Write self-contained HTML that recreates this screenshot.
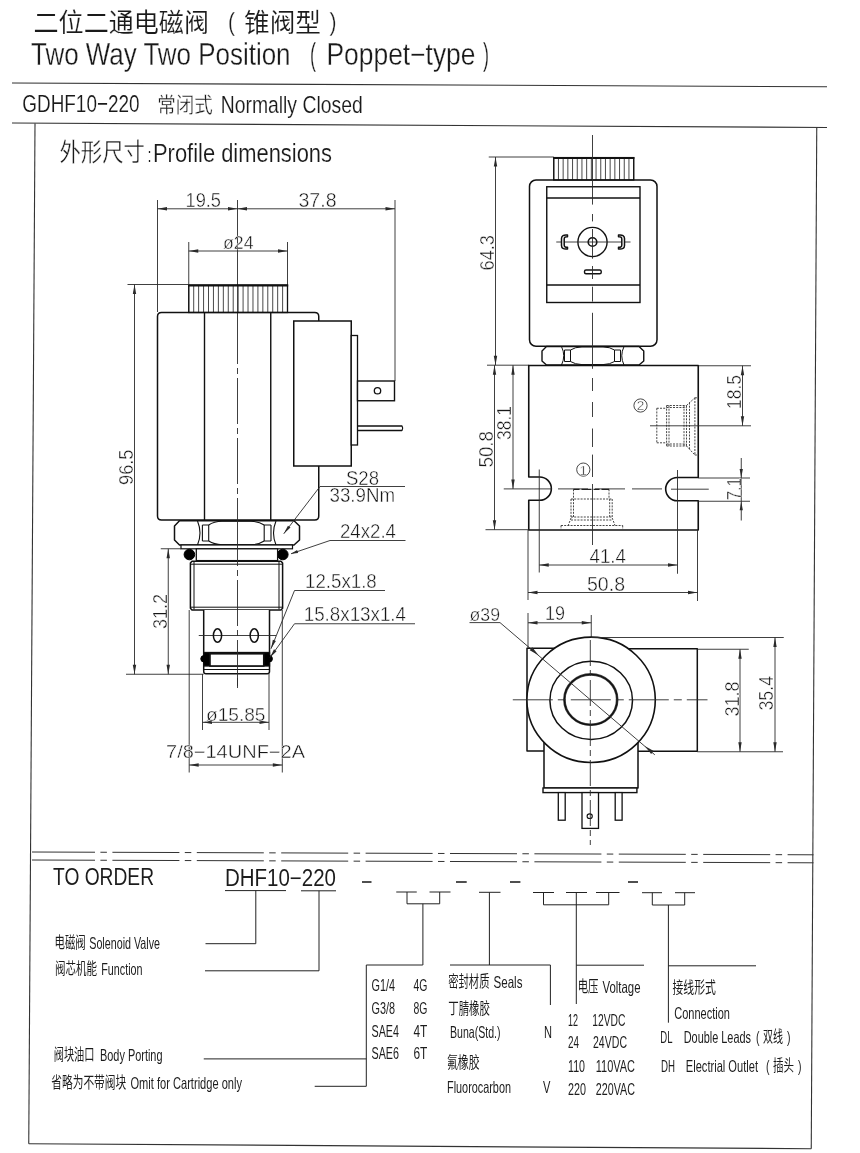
<!DOCTYPE html>
<html lang="zh"><head><meta charset="utf-8"><title>GDHF10-220 Two Way Two Position Poppet-type</title>
<style>
html,body{margin:0;padding:0;background:#fff;}
body{width:860px;height:1153px;overflow:hidden;}
svg{display:block;filter:grayscale(1);}
text{font-family:"Liberation Sans","Noto Sans CJK SC",sans-serif;}
.t{font-family:"Liberation Sans","Noto Sans CJK SC",sans-serif;}
.d{font-family:"Liberation Sans","Noto Sans CJK SC",sans-serif;stroke:#fff;stroke-width:0.42px;}
.h{font-family:"Liberation Sans","Noto Sans CJK SC",sans-serif;stroke:#fff;stroke-width:0.3px;}
.h2{font-family:"Liberation Sans","Noto Sans CJK SC",sans-serif;stroke:#fff;stroke-width:0.15px;}
.c4{font-family:"Liberation Sans","Noto Sans CJK SC",sans-serif;font-weight:400;stroke:#fff;stroke-width:0.35px;}
.c5{font-family:"Liberation Sans","Noto Sans CJK SC",sans-serif;font-weight:400;stroke:#fff;stroke-width:0.15px;}
.c{font-family:"Liberation Sans","Noto Sans CJK SC",sans-serif;font-weight:300;}
</style></head><body>
<svg width="860" height="1153" viewBox="0 0 860 1153">
<rect width="860" height="1153" fill="#fff"/>
<text x="33.50" y="31.50" font-size="26.3" fill="#1a1a1a" class="c5" textLength="175.50" lengthAdjust="spacingAndGlyphs">二位二通电磁阀</text>
<text x="228.00" y="31.00" font-size="26" fill="#1a1a1a" class="h" textLength="7.00" lengthAdjust="spacingAndGlyphs">(</text>
<text x="244.00" y="31.50" font-size="26.3" fill="#1a1a1a" class="c5" textLength="77.00" lengthAdjust="spacingAndGlyphs">锥阀型</text>
<text x="329.50" y="31.00" font-size="26" fill="#1a1a1a" class="h" textLength="7.00" lengthAdjust="spacingAndGlyphs">)</text>
<text x="31.00" y="65.00" font-size="30.5" fill="#1a1a1a" class="h" textLength="259.50" lengthAdjust="spacingAndGlyphs">Two Way Two Position</text>
<text x="310.00" y="65.00" font-size="30.5" fill="#1a1a1a" class="h" textLength="6.00" lengthAdjust="spacingAndGlyphs">(</text>
<text x="326.50" y="65.00" font-size="30.5" fill="#1a1a1a" class="h" textLength="149.00" lengthAdjust="spacingAndGlyphs">Poppet−type</text>
<text x="483.00" y="65.00" font-size="30.5" fill="#1a1a1a" class="h" textLength="6.00" lengthAdjust="spacingAndGlyphs">)</text>
<line x1="12.00" y1="83.00" x2="827.00" y2="86.75" stroke="#333" stroke-width="1.1"/>
<text x="22.30" y="112.20" font-size="24.4" fill="#1a1a1a" class="h2" textLength="117.20" lengthAdjust="spacingAndGlyphs">GDHF10−220</text>
<text x="157.30" y="112.00" font-size="21" fill="#1a1a1a" class="c4" textLength="55.50" lengthAdjust="spacingAndGlyphs">常闭式</text>
<text x="220.70" y="112.60" font-size="24.3" fill="#1a1a1a" class="h2" textLength="142.00" lengthAdjust="spacingAndGlyphs">Normally Closed</text>
<line x1="12.00" y1="123.00" x2="827.00" y2="127.50" stroke="#333" stroke-width="1.1"/>
<text x="59.50" y="161.00" font-size="24.5" fill="#1a1a1a" class="c4" textLength="85.50" lengthAdjust="spacingAndGlyphs">外形尺寸</text>
<text x="147.50" y="161.50" font-size="20" fill="#1a1a1a" class="h2" textLength="4.00" lengthAdjust="spacingAndGlyphs">:</text>
<text x="153.00" y="161.70" font-size="26" fill="#1a1a1a" class="h2" textLength="179.00" lengthAdjust="spacingAndGlyphs">Profile dimensions</text>
<line x1="35.00" y1="123.50" x2="28.75" y2="1143.75" stroke="#333" stroke-width="1.1"/>
<line x1="28.75" y1="1143.75" x2="811.25" y2="1148.75" stroke="#333" stroke-width="1.2"/>
<line x1="816.75" y1="127.50" x2="811.25" y2="1148.75" stroke="#333" stroke-width="1.1"/>
<line x1="157.50" y1="200.00" x2="157.50" y2="312.00" stroke="#2a2a2a" stroke-width="0.9"/>
<line x1="237.50" y1="200.00" x2="237.50" y2="318.00" stroke="#2a2a2a" stroke-width="0.9"/>
<line x1="395.00" y1="200.00" x2="395.00" y2="381.00" stroke="#2a2a2a" stroke-width="0.9"/>
<line x1="157.50" y1="208.80" x2="395.00" y2="208.80" stroke="#2a2a2a" stroke-width="0.9"/>
<polygon points="157.50,208.80 167.00,207.10 167.00,210.50" fill="#2a2a2a"/>
<polygon points="237.50,208.80 228.00,210.50 228.00,207.10" fill="#2a2a2a"/>
<polygon points="237.50,208.80 247.00,207.10 247.00,210.50" fill="#2a2a2a"/>
<polygon points="395.00,208.80 385.50,210.50 385.50,207.10" fill="#2a2a2a"/>
<text x="185.50" y="207.00" font-size="20.3" fill="#161616" class="d" textLength="35.50" lengthAdjust="spacingAndGlyphs">19.5</text>
<text x="298.50" y="207.30" font-size="20.3" fill="#161616" class="d" textLength="38.00" lengthAdjust="spacingAndGlyphs">37.8</text>
<line x1="188.75" y1="242.00" x2="188.75" y2="285.00" stroke="#2a2a2a" stroke-width="0.9"/>
<line x1="287.50" y1="242.00" x2="287.50" y2="285.00" stroke="#2a2a2a" stroke-width="0.9"/>
<line x1="188.75" y1="251.00" x2="287.50" y2="251.00" stroke="#2a2a2a" stroke-width="0.9"/>
<polygon points="188.75,251.00 198.25,249.30 198.25,252.70" fill="#2a2a2a"/>
<polygon points="287.50,251.00 278.00,252.70 278.00,249.30" fill="#2a2a2a"/>
<text x="223.00" y="248.80" font-size="18" fill="#161616" class="d" textLength="30.50" lengthAdjust="spacingAndGlyphs">ø24</text>
<line x1="188.75" y1="286.00" x2="188.75" y2="312.00" stroke="#4a4a4a" stroke-width="1"/>
<line x1="193.69" y1="286.00" x2="193.69" y2="312.00" stroke="#4a4a4a" stroke-width="1"/>
<line x1="198.63" y1="286.00" x2="198.63" y2="312.00" stroke="#4a4a4a" stroke-width="1"/>
<line x1="203.57" y1="286.00" x2="203.57" y2="312.00" stroke="#4a4a4a" stroke-width="1"/>
<line x1="208.51" y1="286.00" x2="208.51" y2="312.00" stroke="#4a4a4a" stroke-width="1"/>
<line x1="213.45" y1="286.00" x2="213.45" y2="312.00" stroke="#4a4a4a" stroke-width="1"/>
<line x1="218.39" y1="286.00" x2="218.39" y2="312.00" stroke="#4a4a4a" stroke-width="1"/>
<line x1="223.33" y1="286.00" x2="223.33" y2="312.00" stroke="#4a4a4a" stroke-width="1"/>
<line x1="228.27" y1="286.00" x2="228.27" y2="312.00" stroke="#4a4a4a" stroke-width="1"/>
<line x1="233.21" y1="286.00" x2="233.21" y2="312.00" stroke="#4a4a4a" stroke-width="1"/>
<line x1="238.15" y1="286.00" x2="238.15" y2="312.00" stroke="#4a4a4a" stroke-width="1"/>
<line x1="243.09" y1="286.00" x2="243.09" y2="312.00" stroke="#4a4a4a" stroke-width="1"/>
<line x1="248.03" y1="286.00" x2="248.03" y2="312.00" stroke="#4a4a4a" stroke-width="1"/>
<line x1="252.97" y1="286.00" x2="252.97" y2="312.00" stroke="#4a4a4a" stroke-width="1"/>
<line x1="257.91" y1="286.00" x2="257.91" y2="312.00" stroke="#4a4a4a" stroke-width="1"/>
<line x1="262.85" y1="286.00" x2="262.85" y2="312.00" stroke="#4a4a4a" stroke-width="1"/>
<line x1="267.79" y1="286.00" x2="267.79" y2="312.00" stroke="#4a4a4a" stroke-width="1"/>
<line x1="272.73" y1="286.00" x2="272.73" y2="312.00" stroke="#4a4a4a" stroke-width="1"/>
<line x1="277.67" y1="286.00" x2="277.67" y2="312.00" stroke="#4a4a4a" stroke-width="1"/>
<line x1="282.61" y1="286.00" x2="282.61" y2="312.00" stroke="#4a4a4a" stroke-width="1"/>
<rect x="188.75" y="285.30" width="98.75" height="27.20" rx="0" stroke="#111" stroke-width="1.3" fill="none"/>
<line x1="188.10" y1="285.40" x2="288.20" y2="285.40" stroke="#111" stroke-width="2.4"/>
<line x1="127.50" y1="284.50" x2="189.00" y2="284.50" stroke="#2a2a2a" stroke-width="0.9"/>
<line x1="126.00" y1="674.25" x2="203.50" y2="674.25" stroke="#2a2a2a" stroke-width="0.9"/>
<line x1="134.50" y1="284.50" x2="134.50" y2="674.25" stroke="#2a2a2a" stroke-width="0.9"/>
<polygon points="134.50,284.50 136.20,294.00 132.80,294.00" fill="#2a2a2a"/>
<polygon points="134.50,674.25 132.80,664.75 136.20,664.75" fill="#2a2a2a"/>
<text x="133.00" y="485.00" font-size="20.3" fill="#161616" class="d" textLength="35.50" lengthAdjust="spacingAndGlyphs" transform="rotate(-90 133.00 485.00)">96.5</text>
<path d="M157.5 316.5 Q157.5 312.5 161.5 312.5 L314.75 312.5 Q318.75 312.5 318.75 316.5 L318.75 516 Q318.75 520 314.75 520 L161.5 520 Q157.5 520 157.5 516 Z" stroke="#111" stroke-width="1.5" fill="none" stroke-linejoin="round"/>
<line x1="204.50" y1="312.50" x2="204.50" y2="520.00" stroke="#111" stroke-width="1.4"/>
<line x1="270.75" y1="312.50" x2="270.75" y2="520.00" stroke="#111" stroke-width="1.4"/>
<rect x="293.75" y="321.00" width="57.50" height="145.00" rx="0" stroke="#111" stroke-width="1.5" fill="#fff"/>
<rect x="351.25" y="335.50" width="6.25" height="109.50" rx="0" stroke="#111" stroke-width="1.3" fill="#fff"/>
<rect x="357.50" y="381.00" width="37.00" height="19.75" rx="0" stroke="#111" stroke-width="1.4" fill="#fff"/>
<circle cx="377.50" cy="390.75" r="3.20" stroke="#111" stroke-width="1.3" fill="none"/>
<path d="M357.5 426 L402 426 Q403.5 428.25 402 430.5 L357.5 430.5" stroke="#111" stroke-width="1.3" fill="none" stroke-linejoin="round"/>
<line x1="237.50" y1="318.00" x2="237.50" y2="688.00" stroke="#2a2a2a" stroke-width="0.9" stroke-dasharray="46 4 6 4"/>
<path d="M179.5 520.8 L294 520.8 L299.5 526 L299.5 540 L294 545 L179.5 545 L174.5 540 L174.5 526 Z" stroke="#111" stroke-width="1.5" fill="#fff" stroke-linejoin="round"/>
<path d="M197.5 521 Q202.5 533 197.5 545" stroke="#111" stroke-width="1.1" fill="none" stroke-linejoin="round"/>
<path d="M276 521 Q271 533 276 545" stroke="#111" stroke-width="1.1" fill="none" stroke-linejoin="round"/>
<line x1="202.40" y1="525.00" x2="202.40" y2="541.00" stroke="#111" stroke-width="1.1"/>
<line x1="208.70" y1="525.00" x2="208.70" y2="541.00" stroke="#111" stroke-width="1.1"/>
<line x1="264.20" y1="525.00" x2="264.20" y2="541.00" stroke="#111" stroke-width="1.1"/>
<line x1="271.00" y1="525.00" x2="271.00" y2="541.00" stroke="#111" stroke-width="1.1"/>
<path d="M202.4 525 L208.7 525 Q214 521.5 222 521.3 L251 521.3 Q259 521.5 264.2 525 L271 525" stroke="#111" stroke-width="1.1" fill="none" stroke-linejoin="round"/>
<path d="M202.4 541 L208.7 541 Q214 544.5 222 544.7 L251 544.7 Q259 544.5 264.2 541 L271 541" stroke="#111" stroke-width="1.1" fill="none" stroke-linejoin="round"/>
<rect x="181.00" y="545.00" width="111.50" height="3.80" rx="0" stroke="#111" stroke-width="1.2" fill="#fff"/>
<line x1="160.75" y1="548.75" x2="181.00" y2="548.75" stroke="#2a2a2a" stroke-width="0.9"/>
<circle cx="189.40" cy="554.50" r="5.30" stroke="#000" stroke-width="1" fill="#000"/>
<circle cx="282.80" cy="554.50" r="5.30" stroke="#000" stroke-width="1" fill="#000"/>
<rect x="196.30" y="548.80" width="81.30" height="11.80" rx="0" stroke="#111" stroke-width="1.3" fill="#fff"/>
<path d="M192 561.2 L281 561.2 L282.6 563 L282.6 608.2 L281 610 L192 610 L190.4 608.2 L190.4 563 Z" stroke="#111" stroke-width="1.5" fill="#fff" stroke-linejoin="round"/>
<line x1="194.00" y1="562.00" x2="194.00" y2="609.50" stroke="#111" stroke-width="1"/>
<line x1="279.00" y1="562.00" x2="279.00" y2="609.50" stroke="#111" stroke-width="1"/>
<line x1="190.40" y1="564.20" x2="282.60" y2="564.20" stroke="#111" stroke-width="1"/>
<line x1="190.40" y1="607.20" x2="282.60" y2="607.20" stroke="#111" stroke-width="1"/>
<path d="M203.7 610 L203.7 671.5 Q203.7 673.8 206 673.8 L267.2 673.8 Q269.5 673.8 269.5 671.5 L269.5 610" stroke="#111" stroke-width="1.5" fill="#fff" stroke-linejoin="round"/>
<line x1="198.75" y1="635.50" x2="276.00" y2="635.50" stroke="#2a2a2a" stroke-width="0.9"/>
<ellipse cx="217.50" cy="635.50" rx="4.10" ry="6.70" stroke="#111" stroke-width="1.5" fill="none"/>
<ellipse cx="254.25" cy="635.50" rx="4.10" ry="6.70" stroke="#111" stroke-width="1.5" fill="none"/>
<rect x="203.70" y="652.50" width="65.80" height="13.50" rx="0" stroke="#111" stroke-width="1.3" fill="#000"/>
<rect x="210.00" y="653.80" width="53.75" height="12.20" rx="0" stroke="#111" stroke-width="1.6" fill="#fff"/>
<circle cx="204.00" cy="658.80" r="3.20" stroke="#000" stroke-width="1" fill="#000"/>
<circle cx="269.20" cy="658.80" r="3.20" stroke="#000" stroke-width="1" fill="#000"/>
<line x1="203.70" y1="669.50" x2="269.50" y2="669.50" stroke="#111" stroke-width="1"/>
<line x1="237.50" y1="520.00" x2="237.50" y2="688.00" stroke="#2a2a2a" stroke-width="0.9" stroke-dasharray="46 4 6 4"/>
<line x1="168.25" y1="548.75" x2="168.25" y2="674.25" stroke="#2a2a2a" stroke-width="0.9"/>
<polygon points="168.25,548.75 169.95,558.25 166.55,558.25" fill="#2a2a2a"/>
<polygon points="168.25,674.25 166.55,664.75 169.95,664.75" fill="#2a2a2a"/>
<text x="166.50" y="629.00" font-size="20.3" fill="#161616" class="d" textLength="35.00" lengthAdjust="spacingAndGlyphs" transform="rotate(-90 166.50 629.00)">31.2</text>
<line x1="189.20" y1="610.00" x2="189.20" y2="772.50" stroke="#2a2a2a" stroke-width="0.9"/>
<line x1="282.30" y1="610.00" x2="282.30" y2="772.50" stroke="#2a2a2a" stroke-width="0.9"/>
<line x1="202.50" y1="674.00" x2="202.50" y2="730.00" stroke="#2a2a2a" stroke-width="0.9"/>
<line x1="269.00" y1="674.00" x2="269.00" y2="730.00" stroke="#2a2a2a" stroke-width="0.9"/>
<line x1="202.50" y1="722.30" x2="269.00" y2="722.30" stroke="#2a2a2a" stroke-width="0.9"/>
<polygon points="202.50,722.30 212.00,720.60 212.00,724.00" fill="#2a2a2a"/>
<polygon points="269.00,722.30 259.50,724.00 259.50,720.60" fill="#2a2a2a"/>
<text x="206.00" y="720.70" font-size="18.5" fill="#161616" class="d" textLength="59.50" lengthAdjust="spacingAndGlyphs">ø15.85</text>
<line x1="189.20" y1="765.00" x2="282.30" y2="765.00" stroke="#2a2a2a" stroke-width="0.9"/>
<polygon points="189.20,765.00 198.70,763.30 198.70,766.70" fill="#2a2a2a"/>
<polygon points="282.30,765.00 272.80,766.70 272.80,763.30" fill="#2a2a2a"/>
<text x="166.00" y="757.50" font-size="18" fill="#161616" class="d" textLength="139.00" lengthAdjust="spacingAndGlyphs">7/8−14UNF−2A</text>
<line x1="320.00" y1="486.50" x2="405.00" y2="486.50" stroke="#2a2a2a" stroke-width="0.9"/>
<line x1="320.00" y1="486.50" x2="283.75" y2="533.75" stroke="#2a2a2a" stroke-width="0.9"/>
<polygon points="283.75,533.75 287.96,525.64 290.50,527.58" fill="#2a2a2a"/>
<text x="346.00" y="484.50" font-size="19.4" fill="#161616" class="d" textLength="33.00" lengthAdjust="spacingAndGlyphs">S28</text>
<text x="329.50" y="502.00" font-size="19.4" fill="#161616" class="d" textLength="65.50" lengthAdjust="spacingAndGlyphs">33.9Nm</text>
<line x1="330.00" y1="540.50" x2="405.50" y2="540.50" stroke="#2a2a2a" stroke-width="0.9"/>
<line x1="330.00" y1="540.50" x2="291.00" y2="553.75" stroke="#2a2a2a" stroke-width="0.9"/>
<polygon points="291.00,553.75 297.15,550.08 298.11,552.92" fill="#2a2a2a"/>
<text x="340.00" y="538.00" font-size="19.4" fill="#161616" class="d" textLength="56.00" lengthAdjust="spacingAndGlyphs">24x2.4</text>
<line x1="294.50" y1="590.50" x2="385.00" y2="590.50" stroke="#2a2a2a" stroke-width="0.9"/>
<line x1="294.50" y1="590.50" x2="271.00" y2="648.75" stroke="#2a2a2a" stroke-width="0.9"/>
<polygon points="271.00,648.75 272.88,639.81 275.85,641.00" fill="#2a2a2a"/>
<text x="305.00" y="588.00" font-size="19.4" fill="#161616" class="d" textLength="71.75" lengthAdjust="spacingAndGlyphs">12.5x1.8</text>
<line x1="294.50" y1="623.75" x2="415.00" y2="623.75" stroke="#2a2a2a" stroke-width="0.9"/>
<line x1="294.50" y1="623.75" x2="270.00" y2="657.50" stroke="#2a2a2a" stroke-width="0.9"/>
<polygon points="270.00,657.50 273.99,649.28 276.58,651.16" fill="#2a2a2a"/>
<text x="303.75" y="620.50" font-size="19.4" fill="#161616" class="d" textLength="102.25" lengthAdjust="spacingAndGlyphs">15.8x13x1.4</text>
<line x1="488.75" y1="157.00" x2="553.75" y2="157.00" stroke="#2a2a2a" stroke-width="0.9"/>
<line x1="487.00" y1="365.20" x2="529.00" y2="365.20" stroke="#2a2a2a" stroke-width="0.9"/>
<line x1="495.50" y1="157.00" x2="495.50" y2="365.20" stroke="#2a2a2a" stroke-width="0.9"/>
<polygon points="495.50,157.00 497.20,166.50 493.80,166.50" fill="#2a2a2a"/>
<polygon points="495.50,365.20 493.80,355.70 497.20,355.70" fill="#2a2a2a"/>
<text x="494.00" y="270.50" font-size="20.3" fill="#161616" class="d" textLength="35.50" lengthAdjust="spacingAndGlyphs" transform="rotate(-90 494.00 270.50)">64.3</text>
<line x1="553.75" y1="158.50" x2="553.75" y2="180.00" stroke="#4a4a4a" stroke-width="1"/>
<line x1="558.45" y1="158.50" x2="558.45" y2="180.00" stroke="#4a4a4a" stroke-width="1"/>
<line x1="563.15" y1="158.50" x2="563.15" y2="180.00" stroke="#4a4a4a" stroke-width="1"/>
<line x1="567.85" y1="158.50" x2="567.85" y2="180.00" stroke="#4a4a4a" stroke-width="1"/>
<line x1="572.55" y1="158.50" x2="572.55" y2="180.00" stroke="#4a4a4a" stroke-width="1"/>
<line x1="577.25" y1="158.50" x2="577.25" y2="180.00" stroke="#4a4a4a" stroke-width="1"/>
<line x1="581.95" y1="158.50" x2="581.95" y2="180.00" stroke="#4a4a4a" stroke-width="1"/>
<line x1="586.65" y1="158.50" x2="586.65" y2="180.00" stroke="#4a4a4a" stroke-width="1"/>
<line x1="591.35" y1="158.50" x2="591.35" y2="180.00" stroke="#4a4a4a" stroke-width="1"/>
<line x1="596.05" y1="158.50" x2="596.05" y2="180.00" stroke="#4a4a4a" stroke-width="1"/>
<line x1="600.75" y1="158.50" x2="600.75" y2="180.00" stroke="#4a4a4a" stroke-width="1"/>
<line x1="605.45" y1="158.50" x2="605.45" y2="180.00" stroke="#4a4a4a" stroke-width="1"/>
<line x1="610.15" y1="158.50" x2="610.15" y2="180.00" stroke="#4a4a4a" stroke-width="1"/>
<line x1="614.85" y1="158.50" x2="614.85" y2="180.00" stroke="#4a4a4a" stroke-width="1"/>
<line x1="619.55" y1="158.50" x2="619.55" y2="180.00" stroke="#4a4a4a" stroke-width="1"/>
<line x1="624.25" y1="158.50" x2="624.25" y2="180.00" stroke="#4a4a4a" stroke-width="1"/>
<line x1="628.95" y1="158.50" x2="628.95" y2="180.00" stroke="#4a4a4a" stroke-width="1"/>
<line x1="633.65" y1="158.50" x2="633.65" y2="180.00" stroke="#4a4a4a" stroke-width="1"/>
<rect x="553.75" y="157.60" width="80.00" height="22.40" rx="0" stroke="#111" stroke-width="1.3" fill="none"/>
<line x1="553.10" y1="158.00" x2="634.40" y2="158.00" stroke="#111" stroke-width="2.2"/>
<rect x="529.50" y="180.00" width="127.50" height="166.25" rx="6.5" stroke="#111" stroke-width="1.5" fill="none"/>
<rect x="546.75" y="186.75" width="93.25" height="115.75" rx="0" stroke="#111" stroke-width="1.4" fill="none"/>
<line x1="546.75" y1="198.00" x2="640.00" y2="198.00" stroke="#111" stroke-width="1.4"/>
<line x1="546.75" y1="285.00" x2="640.00" y2="285.00" stroke="#111" stroke-width="1.4"/>
<circle cx="592.50" cy="242.00" r="14.60" stroke="#111" stroke-width="1.4" fill="none"/>
<circle cx="592.50" cy="242.00" r="4.30" stroke="#111" stroke-width="1.6" fill="none"/>
<line x1="556.25" y1="242.00" x2="630.50" y2="242.00" stroke="#2a2a2a" stroke-width="0.9"/>
<path d="M567.5 235 Q561.5 234.3 561.5 238.5 L561.5 245.5 Q561.5 249.7 567.5 249 L567.5 247.3 Q564.2 247.6 564.2 245 L564.2 239 Q564.2 236.4 567.5 236.7 Z" stroke="#111" stroke-width="1.5" fill="#fff" stroke-linejoin="round"/>
<path d="M618.5 235 Q624.5 234.3 624.5 238.5 L624.5 245.5 Q624.5 249.7 618.5 249 L618.5 247.3 Q621.8 247.6 621.8 245 L621.8 239 Q621.8 236.4 618.5 236.7 Z" stroke="#111" stroke-width="1.5" fill="#fff" stroke-linejoin="round"/>
<rect x="584.50" y="270.00" width="16.75" height="3.75" rx="1.5" stroke="#111" stroke-width="1.4" fill="none"/>
<path d="M546.5 346.5 L639 346.5 L643.75 351 L643.75 361 L639 365 L546.5 365 L542 361 L542 351 Z" stroke="#111" stroke-width="1.4" fill="#fff" stroke-linejoin="round"/>
<path d="M561.5 346.6 Q566 355.7 561.5 365" stroke="#111" stroke-width="1" fill="none" stroke-linejoin="round"/>
<path d="M624 346.6 Q619.5 355.7 624 365" stroke="#111" stroke-width="1" fill="none" stroke-linejoin="round"/>
<line x1="564.50" y1="350.00" x2="564.50" y2="361.50" stroke="#111" stroke-width="1"/>
<line x1="570.50" y1="350.00" x2="570.50" y2="361.50" stroke="#111" stroke-width="1"/>
<line x1="614.50" y1="350.00" x2="614.50" y2="361.50" stroke="#111" stroke-width="1"/>
<line x1="620.50" y1="350.00" x2="620.50" y2="361.50" stroke="#111" stroke-width="1"/>
<path d="M564.5 350 L570.5 350 Q575 347 582 346.9 L603 346.9 Q610 347 614.5 350 L620.5 350" stroke="#111" stroke-width="1" fill="none" stroke-linejoin="round"/>
<path d="M564.5 361.5 L570.5 361.5 Q575 364.4 582 364.6 L603 364.6 Q610 364.4 614.5 361.5 L620.5 361.5" stroke="#111" stroke-width="1" fill="none" stroke-linejoin="round"/>
<path d="M528.75 365.5 L698.25 365.5 L698.25 477.5 L677.3 477.5 A11.6 11.6 0 0 0 677.3 500.75 L698.25 500.75 L698.25 530 L528.75 530 L528.75 500.3 L539.7 500.3 A11.6 11.6 0 0 0 539.7 477 L528.75 477 Z" stroke="#111" stroke-width="1.6" fill="none" stroke-linejoin="round"/>
<line x1="592.50" y1="135.00" x2="592.50" y2="204.60" stroke="#2a2a2a" stroke-width="0.9"/>
<line x1="592.50" y1="214.00" x2="592.50" y2="221.40" stroke="#2a2a2a" stroke-width="0.9"/>
<line x1="592.50" y1="229.00" x2="592.50" y2="258.70" stroke="#2a2a2a" stroke-width="0.9"/>
<line x1="592.50" y1="266.00" x2="592.50" y2="279.00" stroke="#2a2a2a" stroke-width="0.9"/>
<line x1="592.50" y1="286.70" x2="592.50" y2="301.60" stroke="#2a2a2a" stroke-width="0.9"/>
<line x1="592.50" y1="312.80" x2="592.50" y2="368.80" stroke="#2a2a2a" stroke-width="0.9"/>
<line x1="592.50" y1="378.00" x2="592.50" y2="391.00" stroke="#2a2a2a" stroke-width="0.9"/>
<line x1="592.50" y1="402.00" x2="592.50" y2="417.00" stroke="#2a2a2a" stroke-width="0.9"/>
<line x1="592.50" y1="428.50" x2="592.50" y2="447.00" stroke="#2a2a2a" stroke-width="0.9"/>
<line x1="592.50" y1="454.60" x2="592.50" y2="477.00" stroke="#2a2a2a" stroke-width="0.9"/>
<line x1="592.50" y1="484.00" x2="592.50" y2="545.00" stroke="#2a2a2a" stroke-width="0.9"/>
<line x1="503.75" y1="488.90" x2="552.00" y2="488.90" stroke="#2a2a2a" stroke-width="0.9"/>
<line x1="558.00" y1="488.90" x2="665.00" y2="488.90" stroke="#2a2a2a" stroke-width="0.9" stroke-dasharray="30 7"/>
<line x1="671.00" y1="489.20" x2="708.75" y2="489.20" stroke="#2a2a2a" stroke-width="0.9"/>
<line x1="539.25" y1="469.50" x2="539.25" y2="572.50" stroke="#2a2a2a" stroke-width="0.9"/>
<line x1="677.50" y1="470.00" x2="677.50" y2="573.75" stroke="#2a2a2a" stroke-width="0.9"/>
<path d="M573.5 489.3 L573.5 499 M609 489.3 L609 499 M571 499 L612.2 499 M571 499 L571 518 M612.2 499 L612.2 518 M573.5 499 L573.5 518 M609.7 499 L609.7 518 M571 517 L612.2 517 M571 520 L612.2 520 M571 518 L568.25 525.5 M612.2 518 L615 525.5 M561 525.5 L622.7 525.5 M561 525.5 L561 529 M622.7 525.5 L622.7 529" stroke="#333" stroke-width="0.9" fill="none" stroke-linejoin="round" stroke-dasharray="2 1.2"/>
<line x1="573.50" y1="489.30" x2="609.00" y2="489.30" stroke="#222" stroke-width="1.3" stroke-dasharray="6 2 10 2"/>
<path d="M656.8 408.25 L666.6 408.25 M656.8 442.8 L666.6 442.8 M656.8 408.25 L656.8 442.8 M666.6 405.5 L666.6 446 M669 405.5 L669 446 M666.6 405.5 L686.5 405.5 M666.6 446 L686.5 446 M666.6 407.5 L686.5 407.5 M666.6 444 L686.5 444 M686.5 405.5 L686.5 446 M684 405.5 L684 446 M686.5 405.5 L694.9 397.8 M686.5 446 L694.9 455 M694.9 397.8 L694.9 455 M694.9 397.8 L698 397.8 M694.9 455 L698 455 M689.5 402.5 L689.5 449" stroke="#333" stroke-width="0.9" fill="none" stroke-linejoin="round" stroke-dasharray="2 1.2"/>
<line x1="650.00" y1="425.80" x2="751.00" y2="425.80" stroke="#2a2a2a" stroke-width="0.9"/>
<circle cx="583.30" cy="469.60" r="6.60" stroke="#333" stroke-width="0.9" fill="none"/>
<text x="583.30" y="474.50" font-size="13.5" fill="#161616" class="d" text-anchor="middle">1</text>
<circle cx="640.50" cy="405.50" r="6.60" stroke="#333" stroke-width="0.9" fill="none"/>
<text x="640.50" y="410.30" font-size="13.5" fill="#161616" class="d" text-anchor="middle">2</text>
<line x1="485.50" y1="529.70" x2="528.75" y2="529.70" stroke="#2a2a2a" stroke-width="0.9"/>
<line x1="494.50" y1="365.20" x2="494.50" y2="529.70" stroke="#2a2a2a" stroke-width="0.9"/>
<polygon points="494.50,365.20 496.20,374.70 492.80,374.70" fill="#2a2a2a"/>
<polygon points="494.50,529.70 492.80,520.20 496.20,520.20" fill="#2a2a2a"/>
<line x1="513.00" y1="365.20" x2="513.00" y2="488.90" stroke="#2a2a2a" stroke-width="0.9"/>
<polygon points="513.00,365.20 514.70,374.70 511.30,374.70" fill="#2a2a2a"/>
<polygon points="513.00,488.90 511.30,479.40 514.70,479.40" fill="#2a2a2a"/>
<text x="492.50" y="467.50" font-size="20.3" fill="#161616" class="d" textLength="36.50" lengthAdjust="spacingAndGlyphs" transform="rotate(-90 492.50 467.50)">50.8</text>
<text x="511.00" y="440.00" font-size="20.3" fill="#161616" class="d" textLength="34.00" lengthAdjust="spacingAndGlyphs" transform="rotate(-90 511.00 440.00)">38.1</text>
<line x1="698.25" y1="365.75" x2="751.00" y2="365.75" stroke="#2a2a2a" stroke-width="0.9"/>
<line x1="742.50" y1="365.75" x2="742.50" y2="425.80" stroke="#2a2a2a" stroke-width="0.9"/>
<polygon points="742.50,365.75 744.20,375.25 740.80,375.25" fill="#2a2a2a"/>
<polygon points="742.50,425.80 740.80,416.30 744.20,416.30" fill="#2a2a2a"/>
<text x="740.75" y="409.00" font-size="20.3" fill="#161616" class="d" textLength="34.00" lengthAdjust="spacingAndGlyphs" transform="rotate(-90 740.75 409.00)">18.5</text>
<line x1="698.25" y1="478.00" x2="750.00" y2="478.00" stroke="#2a2a2a" stroke-width="0.9"/>
<line x1="698.25" y1="501.25" x2="750.00" y2="501.25" stroke="#2a2a2a" stroke-width="0.9"/>
<line x1="741.25" y1="458.00" x2="741.25" y2="520.50" stroke="#2a2a2a" stroke-width="0.9"/>
<polygon points="741.25,478.00 739.65,469.00 742.85,469.00" fill="#2a2a2a"/>
<polygon points="741.25,501.25 742.85,510.25 739.65,510.25" fill="#2a2a2a"/>
<text x="740.75" y="500.00" font-size="20.3" fill="#161616" class="d" textLength="22.50" lengthAdjust="spacingAndGlyphs" transform="rotate(-90 740.75 500.00)">7.1</text>
<line x1="539.25" y1="565.00" x2="677.50" y2="565.00" stroke="#2a2a2a" stroke-width="0.9"/>
<polygon points="539.25,565.00 548.75,563.30 548.75,566.70" fill="#2a2a2a"/>
<polygon points="677.50,565.00 668.00,566.70 668.00,563.30" fill="#2a2a2a"/>
<text x="589.50" y="562.50" font-size="20.3" fill="#161616" class="d" textLength="36.50" lengthAdjust="spacingAndGlyphs">41.4</text>
<line x1="528.00" y1="530.00" x2="528.00" y2="600.00" stroke="#2a2a2a" stroke-width="0.9"/>
<line x1="697.50" y1="530.00" x2="697.50" y2="601.00" stroke="#2a2a2a" stroke-width="0.9"/>
<line x1="528.00" y1="592.50" x2="697.50" y2="592.50" stroke="#2a2a2a" stroke-width="0.9"/>
<polygon points="528.00,592.50 537.50,590.80 537.50,594.20" fill="#2a2a2a"/>
<polygon points="697.50,592.50 688.00,594.20 688.00,590.80" fill="#2a2a2a"/>
<text x="587.00" y="590.50" font-size="20.3" fill="#161616" class="d" textLength="38.00" lengthAdjust="spacingAndGlyphs">50.8</text>
<line x1="591.25" y1="615.00" x2="591.25" y2="640.00" stroke="#2a2a2a" stroke-width="0.9"/>
<line x1="528.00" y1="622.80" x2="591.25" y2="622.80" stroke="#2a2a2a" stroke-width="0.9"/>
<polygon points="528.00,622.80 537.50,621.10 537.50,624.50" fill="#2a2a2a"/>
<polygon points="591.25,622.80 581.75,624.50 581.75,621.10" fill="#2a2a2a"/>
<text x="545.00" y="620.00" font-size="20.3" fill="#161616" class="d" textLength="20.00" lengthAdjust="spacingAndGlyphs">19</text>
<text x="469.50" y="620.50" font-size="18.5" fill="#161616" class="d" textLength="30.50" lengthAdjust="spacingAndGlyphs">ø39</text>
<line x1="469.50" y1="622.60" x2="500.00" y2="622.60" stroke="#2a2a2a" stroke-width="0.9"/>
<path d="M560 648.2 L527 648.2 L527 751 L560 751" stroke="#111" stroke-width="1.5" fill="none" stroke-linejoin="round"/>
<path d="M625 648.8 L697.3 648.8 L697.3 751.2 L625 751.2" stroke="#111" stroke-width="1.5" fill="none" stroke-linejoin="round"/>
<path d="M544 740 L544 788 L638 788 L638 740" stroke="#111" stroke-width="1.5" fill="#fff" stroke-linejoin="round"/>
<rect x="543.00" y="788.00" width="93.90" height="4.60" rx="0" stroke="#111" stroke-width="1.4" fill="#fff"/>
<rect x="558.30" y="792.60" width="6.90" height="27.60" rx="0" stroke="#111" stroke-width="1.3" fill="#fff"/>
<rect x="615.20" y="792.60" width="6.90" height="27.60" rx="0" stroke="#111" stroke-width="1.3" fill="#fff"/>
<rect x="582.00" y="792.60" width="16.50" height="35.80" rx="0" stroke="#111" stroke-width="1.3" fill="#fff"/>
<ellipse cx="589.70" cy="816.20" rx="2.60" ry="2.30" stroke="#111" stroke-width="1.1" fill="none"/>
<ellipse cx="591.10" cy="699.80" rx="64.20" ry="62.70" stroke="#111" stroke-width="1.6" fill="#fff"/>
<ellipse cx="591.20" cy="700.40" rx="41.30" ry="39.10" stroke="#111" stroke-width="1.5" fill="none"/>
<ellipse cx="590.80" cy="699.60" rx="26.40" ry="25.20" stroke="#444" stroke-width="2.6" fill="none"/>
<ellipse cx="590.80" cy="699.60" rx="26.40" ry="25.20" stroke="#111" stroke-width="1.3" fill="none"/>
<line x1="590.30" y1="640.00" x2="590.30" y2="845.00" stroke="#2a2a2a" stroke-width="0.9" stroke-dasharray="26 4 6 4"/>
<line x1="512.80" y1="699.80" x2="707.50" y2="699.80" stroke="#2a2a2a" stroke-width="0.9" stroke-dasharray="40 5 8 5"/>
<line x1="500.00" y1="622.60" x2="654.80" y2="754.80" stroke="#2a2a2a" stroke-width="0.9"/>
<polygon points="538.60,655.30 529.70,650.33 532.29,647.28" fill="#2a2a2a"/>
<polygon points="644.80,746.00 653.70,750.97 651.11,754.02" fill="#2a2a2a"/>
<line x1="591.00" y1="637.50" x2="783.75" y2="637.50" stroke="#2a2a2a" stroke-width="0.9"/>
<line x1="697.30" y1="649.25" x2="748.75" y2="649.25" stroke="#2a2a2a" stroke-width="0.9"/>
<line x1="697.30" y1="751.75" x2="783.00" y2="751.75" stroke="#2a2a2a" stroke-width="0.9"/>
<line x1="740.00" y1="649.25" x2="740.00" y2="751.75" stroke="#2a2a2a" stroke-width="0.9"/>
<polygon points="740.00,649.25 741.70,658.75 738.30,658.75" fill="#2a2a2a"/>
<polygon points="740.00,751.75 738.30,742.25 741.70,742.25" fill="#2a2a2a"/>
<line x1="775.00" y1="637.50" x2="775.00" y2="751.75" stroke="#2a2a2a" stroke-width="0.9"/>
<polygon points="775.00,637.50 776.70,647.00 773.30,647.00" fill="#2a2a2a"/>
<polygon points="775.00,751.75 773.30,742.25 776.70,742.25" fill="#2a2a2a"/>
<text x="738.75" y="716.50" font-size="20.3" fill="#161616" class="d" textLength="35.00" lengthAdjust="spacingAndGlyphs" transform="rotate(-90 738.75 716.50)">31.8</text>
<text x="773.25" y="710.50" font-size="20.3" fill="#161616" class="d" textLength="34.50" lengthAdjust="spacingAndGlyphs" transform="rotate(-90 773.25 710.50)">35.4</text>
<line x1="528.00" y1="613.00" x2="528.00" y2="648.20" stroke="#2a2a2a" stroke-width="0.9"/>
<line x1="32" y1="852" x2="813.5" y2="854.8" stroke="#333" stroke-width="1" stroke-dasharray="67 5.4 6.5 5.5" stroke-dashoffset="4"/>
<line x1="32" y1="860" x2="813.5" y2="862.8" stroke="#333" stroke-width="1" stroke-dasharray="67 5.4 6.5 5.5" stroke-dashoffset="4"/>
<text x="53.00" y="884.60" font-size="24.3" fill="#1c1c1c" class="t" textLength="101.00" lengthAdjust="spacingAndGlyphs">TO ORDER</text>
<text x="225.00" y="886.00" font-size="23" fill="#1c1c1c" class="t" textLength="111.00" lengthAdjust="spacingAndGlyphs">DHF10−220</text>
<line x1="225.00" y1="890.60" x2="286.00" y2="890.60" stroke="#222" stroke-width="1"/>
<line x1="301.00" y1="890.80" x2="336.00" y2="890.80" stroke="#222" stroke-width="1"/>
<line x1="255.80" y1="890.60" x2="255.80" y2="943.70" stroke="#222" stroke-width="1"/>
<line x1="205.50" y1="943.70" x2="255.80" y2="943.70" stroke="#222" stroke-width="1"/>
<line x1="319.00" y1="890.80" x2="319.00" y2="970.80" stroke="#222" stroke-width="1"/>
<line x1="205.00" y1="970.80" x2="319.00" y2="970.80" stroke="#222" stroke-width="1"/>
<text x="54.50" y="947.95" font-size="15.5" fill="#1c1c1c" class="t" textLength="31.25" lengthAdjust="spacingAndGlyphs">电磁阀</text>
<text x="89.25" y="948.75" font-size="16.5" fill="#1c1c1c" class="t" textLength="70.75" lengthAdjust="spacingAndGlyphs">Solenoid Valve</text>
<text x="55.00" y="974.20" font-size="15.5" fill="#1c1c1c" class="t" textLength="42.00" lengthAdjust="spacingAndGlyphs">阀芯机能</text>
<text x="101.25" y="975.00" font-size="16.5" fill="#1c1c1c" class="t" textLength="41.25" lengthAdjust="spacingAndGlyphs">Function</text>
<text x="53.75" y="1059.70" font-size="15.5" fill="#1c1c1c" class="t" textLength="40.75" lengthAdjust="spacingAndGlyphs">阀块油口</text>
<text x="100.00" y="1060.50" font-size="16.5" fill="#1c1c1c" class="t" textLength="62.50" lengthAdjust="spacingAndGlyphs">Body Porting</text>
<text x="51.25" y="1087.95" font-size="15.5" fill="#1c1c1c" class="t" textLength="75.00" lengthAdjust="spacingAndGlyphs">省略为不带阀块</text>
<text x="130.50" y="1088.75" font-size="16.5" fill="#1c1c1c" class="t" textLength="111.50" lengthAdjust="spacingAndGlyphs">Omit for Cartridge only</text>
<line x1="362.00" y1="882.00" x2="371.50" y2="882.00" stroke="#222" stroke-width="1.6"/>
<line x1="456.00" y1="882.00" x2="466.70" y2="882.00" stroke="#222" stroke-width="1.6"/>
<line x1="510.00" y1="882.00" x2="520.40" y2="882.00" stroke="#222" stroke-width="1.6"/>
<line x1="628.00" y1="882.00" x2="638.00" y2="882.00" stroke="#222" stroke-width="1.6"/>
<line x1="396.25" y1="892.00" x2="416.75" y2="892.00" stroke="#222" stroke-width="1"/>
<line x1="429.50" y1="892.00" x2="450.50" y2="892.00" stroke="#222" stroke-width="1"/>
<line x1="407.00" y1="892.00" x2="407.00" y2="903.80" stroke="#222" stroke-width="1"/>
<line x1="439.70" y1="892.00" x2="439.70" y2="903.80" stroke="#222" stroke-width="1"/>
<line x1="407.00" y1="903.80" x2="439.70" y2="903.80" stroke="#222" stroke-width="1"/>
<line x1="422.90" y1="903.80" x2="422.90" y2="965.00" stroke="#222" stroke-width="1"/>
<line x1="366.30" y1="965.00" x2="422.80" y2="965.00" stroke="#222" stroke-width="1"/>
<line x1="366.30" y1="965.00" x2="366.30" y2="1086.30" stroke="#222" stroke-width="1"/>
<line x1="203.75" y1="1058.90" x2="366.30" y2="1058.90" stroke="#222" stroke-width="1"/>
<line x1="314.70" y1="1086.30" x2="366.30" y2="1086.30" stroke="#222" stroke-width="1"/>
<line x1="479.00" y1="892.30" x2="500.50" y2="892.30" stroke="#222" stroke-width="1"/>
<line x1="489.40" y1="892.30" x2="489.40" y2="965.00" stroke="#222" stroke-width="1"/>
<line x1="450.00" y1="965.00" x2="550.40" y2="965.00" stroke="#222" stroke-width="1"/>
<line x1="550.40" y1="965.00" x2="550.40" y2="1005.00" stroke="#222" stroke-width="1"/>
<line x1="533.00" y1="892.50" x2="554.00" y2="892.50" stroke="#222" stroke-width="1"/>
<line x1="566.00" y1="892.50" x2="587.00" y2="892.50" stroke="#222" stroke-width="1"/>
<line x1="596.00" y1="892.50" x2="619.50" y2="892.50" stroke="#222" stroke-width="1"/>
<line x1="543.50" y1="892.50" x2="543.50" y2="904.80" stroke="#222" stroke-width="1"/>
<line x1="608.70" y1="892.50" x2="608.70" y2="904.80" stroke="#222" stroke-width="1"/>
<line x1="543.50" y1="904.80" x2="608.70" y2="904.80" stroke="#222" stroke-width="1"/>
<line x1="576.30" y1="892.50" x2="576.30" y2="1004.00" stroke="#222" stroke-width="1"/>
<line x1="576.30" y1="965.20" x2="644.00" y2="965.20" stroke="#222" stroke-width="1"/>
<line x1="642.00" y1="892.70" x2="662.00" y2="892.70" stroke="#222" stroke-width="1"/>
<line x1="675.00" y1="892.70" x2="695.00" y2="892.70" stroke="#222" stroke-width="1"/>
<line x1="652.30" y1="892.70" x2="652.30" y2="905.00" stroke="#222" stroke-width="1"/>
<line x1="684.70" y1="892.70" x2="684.70" y2="905.00" stroke="#222" stroke-width="1"/>
<line x1="652.30" y1="905.00" x2="684.70" y2="905.00" stroke="#222" stroke-width="1"/>
<line x1="668.40" y1="905.00" x2="668.40" y2="1022.70" stroke="#222" stroke-width="1"/>
<line x1="668.40" y1="965.80" x2="756.00" y2="965.80" stroke="#222" stroke-width="1"/>
<text x="371.50" y="991.30" font-size="16.5" fill="#1c1c1c" class="t" textLength="23.50" lengthAdjust="spacingAndGlyphs">G1/4</text>
<text x="413.40" y="991.30" font-size="16.5" fill="#1c1c1c" class="t" textLength="13.90" lengthAdjust="spacingAndGlyphs">4G</text>
<text x="371.50" y="1014.00" font-size="16.5" fill="#1c1c1c" class="t" textLength="23.50" lengthAdjust="spacingAndGlyphs">G3/8</text>
<text x="413.40" y="1014.00" font-size="16.5" fill="#1c1c1c" class="t" textLength="13.90" lengthAdjust="spacingAndGlyphs">8G</text>
<text x="371.50" y="1036.60" font-size="16.5" fill="#1c1c1c" class="t" textLength="27.50" lengthAdjust="spacingAndGlyphs">SAE4</text>
<text x="413.40" y="1036.60" font-size="16.5" fill="#1c1c1c" class="t" textLength="13.90" lengthAdjust="spacingAndGlyphs">4T</text>
<text x="371.50" y="1059.30" font-size="16.5" fill="#1c1c1c" class="t" textLength="27.50" lengthAdjust="spacingAndGlyphs">SAE6</text>
<text x="413.40" y="1059.30" font-size="16.5" fill="#1c1c1c" class="t" textLength="13.90" lengthAdjust="spacingAndGlyphs">6T</text>
<text x="448.20" y="987.20" font-size="15.5" fill="#1c1c1c" class="t" textLength="41.30" lengthAdjust="spacingAndGlyphs">密封材质</text>
<text x="493.50" y="988.00" font-size="16.5" fill="#1c1c1c" class="t" textLength="29.00" lengthAdjust="spacingAndGlyphs">Seals</text>
<text x="448.20" y="1014.20" font-size="15.5" fill="#1c1c1c" class="t" textLength="41.80" lengthAdjust="spacingAndGlyphs">丁腈橡胶</text>
<text x="450.00" y="1038.40" font-size="16.5" fill="#1c1c1c" class="t" textLength="50.50" lengthAdjust="spacingAndGlyphs">Buna(Std.)</text>
<text x="544.00" y="1038.40" font-size="16.5" fill="#1c1c1c" class="t" textLength="8.00" lengthAdjust="spacingAndGlyphs">N</text>
<text x="447.00" y="1067.70" font-size="15.5" fill="#1c1c1c" class="t" textLength="32.60" lengthAdjust="spacingAndGlyphs">氟橡胶</text>
<text x="447.00" y="1093.00" font-size="16.5" fill="#1c1c1c" class="t" textLength="64.00" lengthAdjust="spacingAndGlyphs">Fluorocarbon</text>
<text x="543.00" y="1093.00" font-size="16.5" fill="#1c1c1c" class="t" textLength="7.40" lengthAdjust="spacingAndGlyphs">V</text>
<text x="577.70" y="991.70" font-size="15.5" fill="#1c1c1c" class="t" textLength="20.80" lengthAdjust="spacingAndGlyphs">电压</text>
<text x="602.50" y="992.50" font-size="16.5" fill="#1c1c1c" class="t" textLength="38.00" lengthAdjust="spacingAndGlyphs">Voltage</text>
<text x="568.00" y="1025.60" font-size="16.5" fill="#1c1c1c" class="t" textLength="10.00" lengthAdjust="spacingAndGlyphs">12</text>
<text x="592.30" y="1025.60" font-size="16.5" fill="#1c1c1c" class="t" textLength="33.20" lengthAdjust="spacingAndGlyphs">12VDC</text>
<text x="568.00" y="1048.40" font-size="16.5" fill="#1c1c1c" class="t" textLength="11.00" lengthAdjust="spacingAndGlyphs">24</text>
<text x="593.00" y="1048.40" font-size="16.5" fill="#1c1c1c" class="t" textLength="34.00" lengthAdjust="spacingAndGlyphs">24VDC</text>
<text x="568.00" y="1072.00" font-size="16.5" fill="#1c1c1c" class="t" textLength="17.00" lengthAdjust="spacingAndGlyphs">110</text>
<text x="595.80" y="1072.00" font-size="16.5" fill="#1c1c1c" class="t" textLength="39.20" lengthAdjust="spacingAndGlyphs">110VAC</text>
<text x="568.00" y="1095.00" font-size="16.5" fill="#1c1c1c" class="t" textLength="18.00" lengthAdjust="spacingAndGlyphs">220</text>
<text x="595.80" y="1095.00" font-size="16.5" fill="#1c1c1c" class="t" textLength="39.20" lengthAdjust="spacingAndGlyphs">220VAC</text>
<text x="672.50" y="992.70" font-size="15.5" fill="#1c1c1c" class="t" textLength="43.50" lengthAdjust="spacingAndGlyphs">接线形式</text>
<text x="674.30" y="1018.50" font-size="16.5" fill="#1c1c1c" class="t" textLength="55.70" lengthAdjust="spacingAndGlyphs">Connection</text>
<text x="660.30" y="1043.00" font-size="16.5" fill="#1c1c1c" class="t" textLength="12.20" lengthAdjust="spacingAndGlyphs">DL</text>
<text x="683.70" y="1043.00" font-size="16.5" fill="#1c1c1c" class="t" textLength="67.30" lengthAdjust="spacingAndGlyphs">Double Leads</text>
<text x="756.00" y="1043.00" font-size="16.5" fill="#1c1c1c" class="t" textLength="3.50" lengthAdjust="spacingAndGlyphs">(</text>
<text x="763.00" y="1042.20" font-size="15.5" fill="#1c1c1c" class="t" textLength="20.00" lengthAdjust="spacingAndGlyphs">双线</text>
<text x="787.00" y="1043.00" font-size="16.5" fill="#1c1c1c" class="t" textLength="3.50" lengthAdjust="spacingAndGlyphs">)</text>
<text x="661.00" y="1071.50" font-size="16.5" fill="#1c1c1c" class="t" textLength="14.00" lengthAdjust="spacingAndGlyphs">DH</text>
<text x="685.80" y="1071.50" font-size="16.5" fill="#1c1c1c" class="t" textLength="72.20" lengthAdjust="spacingAndGlyphs">Electrial Outlet</text>
<text x="766.00" y="1071.50" font-size="16.5" fill="#1c1c1c" class="t" textLength="3.50" lengthAdjust="spacingAndGlyphs">(</text>
<text x="773.00" y="1070.70" font-size="15.5" fill="#1c1c1c" class="t" textLength="21.00" lengthAdjust="spacingAndGlyphs">插头</text>
<text x="798.00" y="1071.50" font-size="16.5" fill="#1c1c1c" class="t" textLength="3.50" lengthAdjust="spacingAndGlyphs">)</text>
</svg>
</body></html>
